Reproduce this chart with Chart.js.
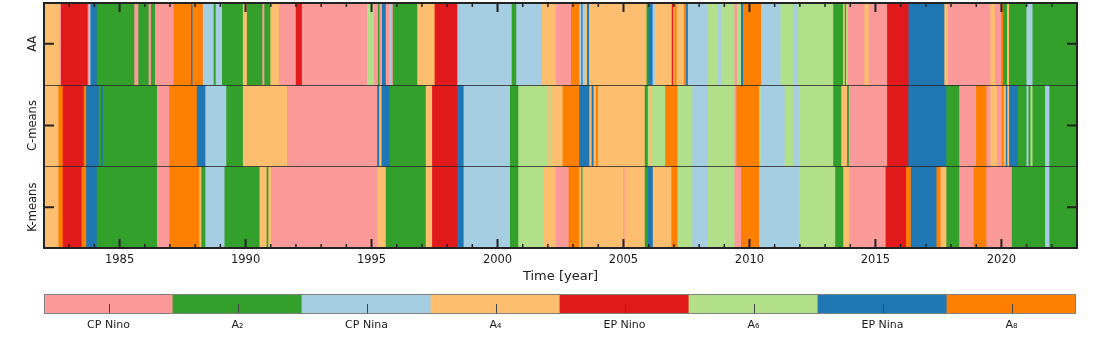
<!DOCTYPE html>
<html lang="en">
<head>
<meta charset="UTF-8">
<title>Regimes</title>
<script src="https://cdn.jsdelivr.net/npm/chart.js"></script>
<style>
  html, body { margin: 0; padding: 0; background: #fff; }
  .box { position: absolute; left: 0; width: 1098px; }
</style>
</head>
<body>
<div class="box" style="top:0;height:285px"><canvas id="grafico"></canvas></div>
<div class="box" style="top:285px;height:69px"><canvas id="legenda"></canvas></div>
<script>
// categorias (ordem da barra de cores)
const categories = ['CP Nino', 'A\u2082', 'CP Nina', 'A\u2084', 'EP Nino', 'A\u2086', 'EP Nina', 'A\u2088'];
const colors = ['#fb9a99', '#33a02c', '#a6cee3', '#fdbf6f', '#e31a1c', '#b2df8a', '#1f78b4', '#ff7f00'];
const rowLabels = ['AA', 'C-means', 'K-means'];
const yearTicks = [1985, 1990, 1995, 2000, 2005, 2010, 2015, 2020];
const startYear = 1982;
const endYear = 2023;

// inicio de cada trecho (ano) e estado do trecho
const aaStart = [1982.00, 1982.63, 1982.69, 1983.75, 1983.81, 1983.86, 1984.11, 1985.60, 1985.76, 1986.17, 1986.26, 1986.42,
  1987.16, 1987.85, 1987.91, 1988.32, 1988.75, 1988.83, 1989.08, 1989.91, 1990.07, 1990.68, 1990.76, 1991.00, 1991.34, 1992.01,
  1992.25, 1994.84, 1995.11, 1995.27, 1995.33, 1995.43, 1995.58, 1995.72, 1995.80, 1995.86, 1996.83,
  1997.52, 1998.42, 2000.58, 2000.76, 2001.78,
  2002.33, 2002.93, 2003.26, 2003.34, 2003.39, 2003.48, 2003.57, 2003.65, 2005.93, 2006.01, 2006.17, 2006.26, 2006.93,
  2006.99, 2007.04, 2007.12, 2007.42, 2007.50, 2007.57, 2008.36, 2008.76, 2008.92, 2009.42, 2009.52, 2009.68, 2009.76, 2010.48, 2011.25, 2011.77, 2011.93,
  2013.34, 2013.73, 2013.80, 2013.85, 2013.92, 2014.58, 2014.75, 2015.48, 2016.33,
  2017.75, 2017.89, 2019.58, 2019.76, 2020.00, 2020.08, 2020.24, 2020.32, 2021.01, 2021.25];
const aaState = [3, 0, 4, 0, 2, 6, 1, 0, 1, 0, 1, 0,
  7, 6, 7, 2, 1, 2, 1, 3, 1, 0, 1, 3, 0, 4,
  0, 5, 0, 1, 0, 6, 0, 2, 0, 1, 3,
  4, 2, 1, 2, 3,
  0, 7, 2, 6, 2, 3, 6, 3, 1, 6, 2, 3, 4,
  3, 7, 3, 7, 6, 2, 5, 2, 5, 0, 5, 6, 7, 2, 5, 2, 5,
  1, 3, 1, 5, 0, 3, 0, 4, 6,
  3, 0, 3, 0, 7, 1, 3, 1, 2, 1];

const cmStart = [1982.00, 1982.59, 1982.76, 1983.59, 1983.69, 1984.19, 1984.28, 1984.35, 1986.50,
  1986.99, 1988.08, 1988.42, 1989.25, 1989.91, 1991.66,
  1995.24, 1995.32, 1995.41, 1995.74,
  1997.17, 1997.42, 1998.42, 1998.67, 2000.51, 2000.84, 2002.00, 2002.07, 2002.13,
  2002.60, 2003.26, 2003.66, 2003.75, 2003.83, 2003.92, 2004.00, 2005.86, 2005.98, 2006.05, 2006.15, 2006.67,
  2007.16, 2007.75, 2008.34, 2009.42, 2009.50, 2010.40, 2010.46, 2011.41, 2011.76, 2012.00,
  2013.34, 2013.66, 2013.89, 2013.96, 2015.48, 2016.32,
  2017.83, 2018.34, 2019.01, 2019.42, 2019.58, 2019.84, 2020.03, 2020.11, 2020.19, 2020.25, 2020.32, 2020.66, 2021.01, 2021.09, 2021.17, 2021.25, 2021.75, 2021.92];
const cmState = [3, 7, 4, 7, 6, 1, 6, 1, 0,
  7, 6, 2, 1, 3, 0,
  6, 3, 6, 1,
  3, 4, 6, 2, 1, 5, 3, 5, 3,
  7, 6, 3, 6, 3, 7, 3, 1, 5, 3, 5, 7,
  5, 2, 5, 0, 7, 5, 2, 5, 2, 5,
  1, 3, 1, 0, 4, 6,
  1, 0, 7, 0, 3, 0, 7, 3, 6, 3, 6, 1, 2, 1, 5, 1, 2, 1];

const kmStart = [1982.00, 1982.59, 1982.76, 1983.51, 1983.69, 1984.11, 1986.50,
  1987.00, 1988.18, 1988.26, 1988.42, 1989.18, 1990.57, 1990.85, 1990.92, 1991.02,
  1995.24, 1995.58,
  1997.17, 1997.42, 1998.42, 1998.67, 2000.51, 2000.84, 2001.86,
  2002.33, 2002.84, 2003.26, 2003.34, 2003.39, 2005.01, 2005.06, 2005.86, 2005.98, 2006.18, 2006.92,
  2007.16, 2007.75, 2008.34, 2009.42, 2009.68, 2010.40, 2012.00,
  2013.42, 2013.74, 2013.99, 2015.42, 2016.23, 2016.42,
  2017.44, 2017.60, 2017.83, 2018.34, 2018.92, 2019.42, 2020.43, 2021.75, 2021.92];
const kmState = [3, 7, 4, 7, 6, 1, 0,
  7, 3, 1, 2, 1, 3, 1, 3, 0,
  3, 1,
  3, 4, 6, 2, 1, 5, 3,
  0, 7, 3, 1, 3, 0, 3, 1, 6, 3, 7,
  5, 2, 5, 0, 7, 2, 5,
  1, 3, 0, 4, 7, 6,
  7, 3, 1, 0, 7, 0, 1, 2, 1];

Chart.defaults.font.family = "'DejaVu Sans', sans-serif";
Chart.defaults.color = '#1a1a1a';

// monta os trechos flutuantes de uma linha
function linha(label, starts, states) {
  return {
    data: starts.map((s, i) => ({ x: [s, i + 1 < starts.length ? starts[i + 1] : endYear], y: label })),
    backgroundColor: states.map(k => colors[k]),
    borderWidth: 0,
    inflateAmount: 0.4,
    grouped: false,
    categoryPercentage: 1,
    barPercentage: 1
  };
}

// moldura, ticks para dentro e rotulos verticais
const moldura = {
  id: 'moldura',
  afterDraw(chart) {
    const { ctx, chartArea: a, scales: { x, y } } = chart;
    ctx.save();
    ctx.strokeStyle = 'rgba(40,40,40,0.8)';
    ctx.lineWidth = 1;
    for (let i = 1; i < rowLabels.length; i++) {
      const yy = Math.round((y.getPixelForValue(i - 1) + y.getPixelForValue(i)) / 2) + 0.5;
      ctx.beginPath();
      ctx.moveTo(a.left, yy);
      ctx.lineTo(a.right, yy);
      ctx.stroke();
    }
    ctx.strokeStyle = '#222';
    for (let yr = startYear + 1; yr < endYear; yr++) {
      const px = x.getPixelForValue(yr);
      const major = yearTicks.includes(yr);
      const len = major ? 9 : 4;
      ctx.lineWidth = major ? 2 : 1.5;
      ctx.beginPath();
      ctx.moveTo(px, a.bottom);
      ctx.lineTo(px, a.bottom - len);
      ctx.moveTo(px, a.top);
      ctx.lineTo(px, a.top + len);
      ctx.stroke();
    }
    ctx.lineWidth = 2;
    rowLabels.forEach((lab, i) => {
      const py = y.getPixelForValue(i);
      ctx.beginPath();
      ctx.moveTo(a.left, py);
      ctx.lineTo(a.left + 10, py);
      ctx.moveTo(a.right, py);
      ctx.lineTo(a.right - 10, py);
      ctx.stroke();
    });
    ctx.strokeRect(a.left, a.top, a.right - a.left, a.bottom - a.top);
    ctx.fillStyle = '#1a1a1a';
    ctx.font = "11.5px 'DejaVu Sans'";
    ctx.textAlign = 'center';
    ctx.textBaseline = 'alphabetic';
    rowLabels.forEach((lab, i) => {
      ctx.save();
      ctx.translate(a.left - 8, y.getPixelForValue(i));
      ctx.rotate(-Math.PI / 2);
      ctx.fillText(lab, 0, 0);
      ctx.restore();
    });
    ctx.restore();
  }
};

new Chart(document.getElementById('grafico'), {
  type: 'bar',
  data: {
    labels: rowLabels,
    datasets: [linha('AA', aaStart, aaState), linha('C-means', cmStart, cmState), linha('K-means', kmStart, kmState)]
  },
  options: {
    indexAxis: 'y',
    responsive: true,
    maintainAspectRatio: false,
    animation: false,
    layout: { padding: { left: 44, right: 21, top: 3, bottom: 0 } },
    plugins: { legend: { display: false }, tooltip: { enabled: false } },
    scales: {
      x: {
        type: 'linear',
        min: startYear,
        max: endYear,
        grid: { display: false, drawTicks: false },
        border: { display: false },
        afterBuildTicks: s => { s.ticks = yearTicks.map(v => ({ value: v })); },
        afterFit: s => { s.height = 37; },
        ticks: { padding: 5, font: { size: 11.5 }, callback: v => String(v) },
        title: { display: true, text: 'Time [year]', font: { size: 13 }, padding: { top: 0, bottom: 1 } }
      },
      y: { display: false, offset: true }
    }
  },
  plugins: [moldura]
});

// barra de cores
const barraDeco = {
  id: 'barraDeco',
  afterDraw(chart) {
    const { ctx, chartArea: a, scales: { x } } = chart;
    ctx.save();
    ctx.strokeStyle = '#444';
    ctx.lineWidth = 1;
    categories.forEach((c, i) => {
      const px = Math.round(x.getPixelForValue(i + 0.5)) + 0.5;
      ctx.beginPath();
      ctx.moveTo(px, a.bottom);
      ctx.lineTo(px, a.bottom - 10);
      ctx.stroke();
    });
    ctx.strokeStyle = '#808080';
    ctx.strokeRect(a.left + 0.5, a.top + 0.5, a.right - a.left - 1, a.bottom - a.top - 1);
    ctx.restore();
  }
};

new Chart(document.getElementById('legenda'), {
  type: 'bar',
  data: {
    labels: [''],
    datasets: [{
      data: categories.map((c, i) => ({ x: [i, i + 1], y: '' })),
      backgroundColor: colors,
      borderWidth: 0,
      inflateAmount: 0.4,
      categoryPercentage: 1,
      barPercentage: 1
    }]
  },
  options: {
    indexAxis: 'y',
    responsive: true,
    maintainAspectRatio: false,
    animation: false,
    layout: { padding: { left: 44, right: 22, top: 9, bottom: 0 } },
    plugins: { legend: { display: false }, tooltip: { enabled: false } },
    scales: {
      x: {
        type: 'linear',
        min: 0,
        max: categories.length,
        grid: { display: false, drawTicks: false },
        border: { display: false },
        afterBuildTicks: s => { s.ticks = categories.map((c, i) => ({ value: i + 0.5 })); },
        afterFit: s => { s.height = 40; },
        ticks: { padding: 5, font: { size: 11 }, autoSkip: false, maxRotation: 0, callback: (v, i) => categories[i] }
      },
      y: { display: false, offset: true }
    }
  },
  plugins: [barraDeco]
});
</script>
</body>
</html>
